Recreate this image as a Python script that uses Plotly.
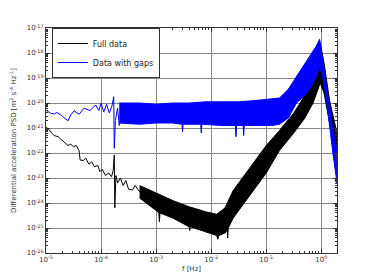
import numpy as np
import plotly.graph_objects as go

# ---- data (log10 of frequency [Hz] and log10 of PSD) ----
# Full data: low-frequency single line
full_line_logf = [-5.0, -4.95, -4.9, -4.85, -4.78, -4.72, -4.65, -4.6, -4.55, -4.5, -4.45, -4.4, -4.38,
                  -4.32, -4.28, -4.22, -4.17, -4.12, -4.06, -4.02, -3.98, -3.92, -3.86, -3.81, -3.78,
                  -3.76, -3.75, -3.73, -3.7, -3.65, -3.6, -3.55, -3.5, -3.43, -3.38, -3.3, -3.25]
full_line_logp = [-20.97, -21.05, -21.2, -21.3, -21.35, -21.48, -21.61, -21.7, -21.65, -21.75, -21.7, -21.9, -22.28,
                  -22.3, -22.2, -22.45, -22.35, -22.55, -22.5, -22.75, -22.65, -22.9, -22.8, -22.95, -22.7,
                  -22.08, -24.19, -22.9, -23.2, -23.0, -23.3, -23.1, -23.45, -23.48, -23.3, -23.55, -23.5]
# Full data: dense noisy band (upper / lower envelopes)
full_up_logf = [-3.3, -3.0, -2.7, -2.4, -2.1, -1.9, -1.75, -1.6, -1.4, -1.2, -1.0, -0.76, -0.5, -0.3,
                -0.15, -0.05, -0.02, 0.05, 0.15, 0.285]
full_up_logp = [-23.3, -23.6, -23.9, -24.15, -24.35, -24.45, -24.2, -23.5, -22.9, -22.3, -21.7, -21.1, -20.4, -19.7,
                -19.0, -18.3, -17.6, -18.4, -19.9, -21.2]
full_lo_logf = [-3.3, -3.0, -2.95, -2.94, -2.93, -2.7, -2.4, -2.39, -2.38, -2.1, -1.9, -1.88, -1.86, -1.75,
                -1.71, -1.7, -1.69, -1.6, -1.4, -1.2, -1.0, -0.76, -0.5, -0.3, -0.15, -0.05, -0.02, 0.05, 0.15, 0.285]
full_lo_logp = [-23.8, -24.3, -24.4, -24.75, -24.4, -24.6, -24.95, -25.1, -24.95, -25.15, -25.3, -25.45, -25.3, -25.2,
                -25.1, -25.4, -25.0, -24.6, -24.0, -23.4, -22.8, -21.9, -21.2, -20.6, -20.0, -19.4, -19.2, -19.6, -20.8, -22.2]

# Data with gaps: low-frequency single line
gaps_line_logf = [-5.0, -4.92, -4.85, -4.8, -4.72, -4.6, -4.55, -4.49, -4.4, -4.31, -4.2, -4.1, -4.04, -4.0,
                  -3.95, -3.9, -3.85, -3.8, -3.77, -3.76, -3.74, -3.7, -3.67, -3.62]
gaps_line_logp = [-20.28, -20.41, -20.44, -20.38, -20.5, -20.71, -20.48, -20.31, -20.45, -20.21, -20.3, -20.08, -20.3, -20.01,
                  -20.35, -20.05, -20.4, -20.1, -19.75, -21.81, -20.7, -20.2, -20.9, -20.4]
# Data with gaps: dense noisy band (upper / lower envelopes)
gaps_up_logf = [-3.67, -3.3, -3.0, -2.7, -2.4, -2.1, -1.8, -1.5, -1.2, -0.9, -0.76, -0.6, -0.45, -0.3,
                -0.21, -0.1, -0.03, 0.03, 0.09, 0.15, 0.21, 0.285]
gaps_up_logp = [-20.0, -20.0, -20.05, -20.0, -20.0, -19.95, -19.95, -19.95, -19.9, -19.85, -19.8, -19.45, -18.95, -18.45,
                -18.1, -17.75, -17.45, -18.41, -19.35, -20.15, -21.08, -21.9]
gaps_lo_logf = [-3.67, -3.3, -3.0, -2.7, -2.53, -2.52, -2.51, -2.4, -2.19, -2.18, -2.17, -1.8, -1.56, -1.55, -1.54,
                -1.42, -1.41, -1.4, -1.2, -0.9, -0.76, -0.6, -0.45, -0.3, -0.21, -0.1, -0.03, 0.03, 0.09, 0.15, 0.21, 0.285]
gaps_lo_logp = [-20.8, -20.85, -20.8, -20.8, -20.85, -21.15, -20.85, -20.85, -20.85, -21.2, -20.85, -20.9, -20.9, -21.35, -20.9,
                -20.9, -21.3, -20.9, -20.9, -20.9, -20.85, -20.6, -20.0, -19.7, -19.45, -19.0, -18.5, -19.0, -19.8, -20.9, -22.0, -23.2]

x_tick_exp = [-5, -4, -3, -2, -1, 0]
y_tick_exp = [-26, -25, -24, -23, -22, -21, -20, -19, -18, -17]


def p(a):
    return [10.0 ** v for v in a]


fig = go.Figure()

# Full data
fig.add_trace(go.Scatter(x=p(full_line_logf), y=p(full_line_logp), mode="lines",
                         line=dict(color="black", width=1), name="Full data"))
fig.add_trace(go.Scatter(x=p(full_up_logf + full_lo_logf[::-1]),
                         y=p(full_up_logp + full_lo_logp[::-1]),
                         mode="lines", fill="toself", fillcolor="black",
                         line=dict(color="black", width=1), showlegend=False, hoverinfo="skip"))
# Data with gaps
fig.add_trace(go.Scatter(x=p(gaps_line_logf), y=p(gaps_line_logp), mode="lines",
                         line=dict(color="#0000ff", width=1), name="Data with gaps"))
fig.add_trace(go.Scatter(x=p(gaps_up_logf + gaps_lo_logf[::-1]),
                         y=p(gaps_up_logp + gaps_lo_logp[::-1]),
                         mode="lines", fill="toself", fillcolor="#0000ff",
                         line=dict(color="#0000ff", width=1), showlegend=False, hoverinfo="skip"))


def minor_vals(lo, hi):
    vals = []
    for e in range(lo, hi + 1):
        for m in range(2, 10):
            vals.append(m * 10.0 ** e)
    return vals


tickfont = dict(family="DejaVu Sans", size=7, color="#333333")
fig.update_xaxes(type="log", range=[-5, 0.285], automargin=False,
                 tickvals=[10.0 ** e for e in x_tick_exp],
                 ticktext=["10<sup>%d</sup>" % e for e in x_tick_exp],
                 ticks="inside", ticklen=4, tickcolor="#333333",
                 minor=dict(tickvals=minor_vals(-5, 0), ticks="inside", ticklen=2, tickcolor="#333333", showgrid=False),
                 showgrid=True, gridcolor="#888888", gridwidth=1,
                 showline=True, linecolor="#333333", linewidth=1, mirror="allticks",
                 tickfont=tickfont, zeroline=False,
                 title=dict(text="f [Hz]", font=dict(family="DejaVu Sans", size=7, color="#333333"), standoff=2))
fig.update_yaxes(type="log", range=[-26, -17], automargin=False,
                 tickvals=[10.0 ** e for e in y_tick_exp],
                 ticktext=["10<sup>%d</sup>" % e for e in y_tick_exp],
                 ticks="inside", ticklen=4, tickcolor="#333333",
                 minor=dict(tickvals=minor_vals(-26, -18), ticks="inside", ticklen=2, tickcolor="#333333", showgrid=False),
                 showgrid=True, gridcolor="#888888", gridwidth=1,
                 showline=True, linecolor="#333333", linewidth=1, mirror="allticks",
                 tickfont=tickfont, zeroline=False,
                 title=dict(text="Differential acceleration PSD [m<sup>2</sup> s<sup>-4</sup> Hz<sup>-1</sup>]",
                            font=dict(family="DejaVu Sans", size=7, color="#333333"), standoff=9))

fig.update_layout(width=374, height=280,
                  margin=dict(l=46, r=37, t=28, b=27),
                  paper_bgcolor="white", plot_bgcolor="white",
                  legend=dict(x=0.02, y=1.0, xanchor="left", yanchor="top",
                              bgcolor="white", bordercolor="#333333", borderwidth=1,
                              font=dict(family="DejaVu Sans", size=8, color="#222222"),
                              tracegroupgap=0, itemwidth=30),
                  showlegend=True)

fig.write_html("out.html", config={"displayModeBar": False},
               post_script="document.body.style.margin='0px';")
